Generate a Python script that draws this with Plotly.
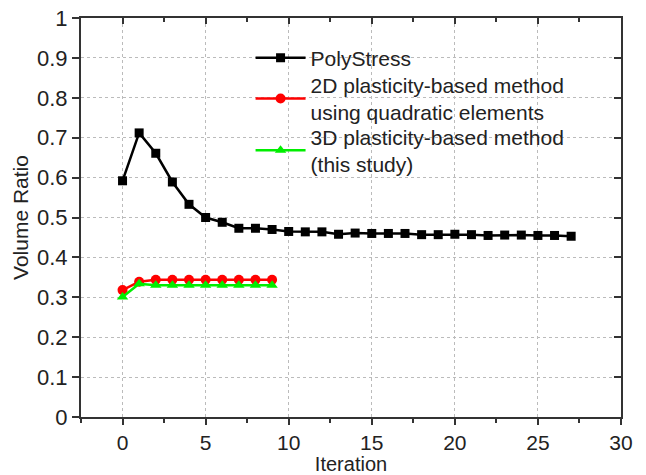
import plotly.graph_objects as go

# Iteration histories of the volume ratio for the three methods
iter_poly = list(range(28))
vol_poly = [0.592, 0.712, 0.661, 0.589, 0.533, 0.500, 0.488, 0.473, 0.473, 0.470,
            0.465, 0.464, 0.464, 0.458, 0.461, 0.460, 0.460, 0.460, 0.457, 0.457,
            0.458, 0.457, 0.455, 0.456, 0.456, 0.455, 0.455, 0.453]

iter_2d = list(range(10))
vol_2d = [0.318, 0.339, 0.344, 0.344, 0.344, 0.344, 0.344, 0.344, 0.344, 0.344]

iter_3d = list(range(10))
vol_3d = [0.301, 0.334, 0.330, 0.330, 0.330, 0.330, 0.330, 0.330, 0.330, 0.330]

x_range = [-2.5, 30]
y_range = [0, 1]

FONT = "Liberation Sans, Arial, sans-serif"
AX = "#333333"

fig = go.Figure()

fig.add_trace(go.Scatter(
    x=iter_poly, y=vol_poly, mode="lines+markers", name="PolyStress",
    line=dict(color="black", width=2.5),
    marker=dict(symbol="square", size=9, color="black"),
    legend="legend",
))
fig.add_trace(go.Scatter(
    x=iter_2d, y=vol_2d, mode="lines+markers",
    name="2D plasticity-based method<br>using quadratic elements",
    line=dict(color="#ff0000", width=2.5),
    marker=dict(symbol="circle", size=10, color="#ff0000"),
    legend="legend2",
))
fig.add_trace(go.Scatter(
    x=iter_3d, y=vol_3d, mode="lines+markers",
    name="3D plasticity-based method<br>(this study)",
    line=dict(color="#00ee00", width=2.5),
    marker=dict(symbol="triangle-up", size=10, color="#00ee00"),
    legend="legend3",
))
# invisible trace so the mirrored top/right axes are drawn
fig.add_trace(go.Scatter(x=[None], y=[None], xaxis="x2", yaxis="y2",
                         showlegend=False, hoverinfo="skip"))

common_x = dict(range=x_range, tick0=0, dtick=5, showline=True, linecolor=AX,
                linewidth=2, zeroline=False, tickcolor=AX, tickwidth=2,
                automargin=False)
common_y = dict(range=y_range, tick0=0, dtick=0.1, showline=True, linecolor=AX,
                linewidth=2, zeroline=False, tickcolor=AX, tickwidth=2,
                automargin=False)

leg_common = dict(xanchor="left", yanchor="top", bgcolor="rgba(0,0,0,0)",
                  font=dict(size=21), itemwidth=50)

fig.update_layout(
    width=646, height=475,
    margin=dict(l=81, r=25, t=18, b=58),
    paper_bgcolor="white", plot_bgcolor="white",
    font=dict(family=FONT, size=21, color="#222222"),
    showlegend=True,
    legend=dict(x=0.314, y=0.951, **leg_common),
    legend2=dict(x=0.314, y=0.883, **leg_common),
    legend3=dict(x=0.314, y=0.753, **leg_common),
    xaxis=dict(**common_x, ticks="outside", ticklen=6,
               showgrid=True, gridcolor="#bbbbbb", griddash="dot", gridwidth=1,
               minor=dict(dtick=2.5, ticks="outside", ticklen=4, tickcolor=AX,
                          tickwidth=2, showgrid=False),
               title=dict(text="Iteration", font=dict(size=20), standoff=13),
               tickfont=dict(size=21)),
    xaxis2=dict(**common_x, overlaying="x", side="top", ticks="inside", ticklen=6,
                showticklabels=False, showgrid=False, matches="x",
                minor=dict(dtick=2.5, ticks="inside", ticklen=4, tickcolor=AX,
                           tickwidth=2)),
    yaxis=dict(**common_y, ticks="outside", ticklen=7,
               showgrid=True, gridcolor="#bbbbbb", griddash="dot", gridwidth=1,
               title=dict(text="Volume Ratio", font=dict(size=21), standoff=3),
               tickfont=dict(size=22)),
    yaxis2=dict(**common_y, overlaying="y", side="right", ticks="inside", ticklen=7,
                showticklabels=False, showgrid=False, matches="y"),
)

fig.write_html("out.html")
